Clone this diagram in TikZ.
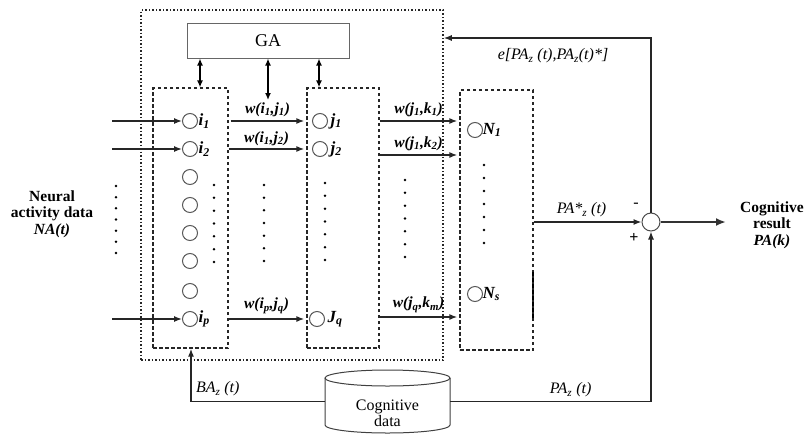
\documentclass[tikz,border=0pt]{standalone}
\usepackage{fontspec}
\setmainfont{Liberation Serif}
\usetikzlibrary{arrows.meta}
\newcommand{\sbs}[1]{\textsubscript{#1}}
\begin{document}
\begin{tikzpicture}[x=1pt,y=-1pt,
  neuron/.style={circle,draw=black!65,line width=1pt,minimum size=15pt,inner sep=0pt},
  layerbox/.style={draw=black!85,line width=1.3pt,dash pattern=on 3.5pt off 2.5pt},
  arr/.style={-{Latex[length=8pt,width=6pt]},line width=1.3pt,draw=black!85},
  darr/.style={{Latex[length=7pt,width=6pt]}-{Latex[length=7pt,width=6pt]},line width=1.3pt},
  wlab/.style={font=\fontsize{15.5}{16}\selectfont\bfseries\itshape,inner sep=0pt},
  nlab/.style={font=\fontsize{17}{18}\selectfont\bfseries\itshape,inner sep=0.5pt},
  slab/.style={font=\fontsize{16}{17}\selectfont\itshape,inner sep=0pt},
  bigtxt/.style={font=\fontsize{15.5}{16.5}\selectfont\bfseries,align=center},
  dotpt/.style={circle,fill=black,inner sep=0pt,minimum size=2.8pt}]
\useasboundingbox (0,0) rectangle (808,442);

% outer dotted network box
\node[draw=black!85,dotted,line width=1.5pt,minimum width=302pt,minimum height=350pt,inner sep=0pt] (net) at (292,185) {};
% GA
\node[draw=black!60,line width=1pt,minimum width=162pt,minimum height=35pt,font=\fontsize{18}{19}\selectfont] (GA) at (268,40.5) {GA};
% layer boxes
\node[layerbox,minimum width=75pt,minimum height=260pt] (L1) at (190.5,218) {};
\node[layerbox,minimum width=72pt,minimum height=260pt] (L2) at (343,218) {};
\node[layerbox,minimum width=73pt,minimum height=260pt] (L3) at (496.5,220) {};
\draw[line width=1.8pt,dash pattern=on 4pt off 2pt] (533,272) -- (533,320);

% input neurons
\node[neuron,label={[nlab]right:i\sbs{1}}] (i1) at (190,121) {};
\node[neuron,label={[nlab]right:i\sbs{2}}] (i2) at (190,149) {};
\node[neuron] (c3) at (190,177) {};
\node[neuron] (c4) at (190,205) {};
\node[neuron] (c5) at (190,233) {};
\node[neuron] (c6) at (190,261) {};
\node[neuron] (c7) at (190,291) {};
\node[neuron,label={[nlab]right:i\sbs{p}}] (ip) at (190,319) {};
% hidden neurons
\node[neuron,label={[nlab,label distance=2pt]right:j\sbs{1}}] (j1) at (320,121) {};
\node[neuron,label={[nlab,label distance=2pt]right:j\sbs{2}}] (j2) at (320,149) {};
\node[neuron,label={[nlab,label distance=2pt]right:J\sbs{q}}] (jq) at (317,319) {};
% output neurons
\node[neuron,label={[nlab,label distance=-1pt]right:N\sbs{1}}] (N1) at (475,130) {};
\node[neuron,label={[nlab,label distance=-1pt]right:N\sbs{s}}] (Ns) at (475,294) {};
% summation
\node[circle,draw=black!70,line width=1pt,minimum size=18pt,inner sep=0pt] (sum) at (651,222) {};

% dots
\foreach \x/\ya/\yb in {116/186/253, 214/185/262, 264/185/261, 325/183/260, 405/180/257, 484/165/243}{
  \foreach \k in {0,...,6}{
    \node[dotpt] at (\x,{\ya+\k*(\yb-\ya)/6}) {};
  }
}

% input arrows
\coordinate (in1) at (112,121);
\coordinate (in2) at (112,149);
\coordinate (inp) at (112,319);
\draw[arr] (in1) -- (i1.west);
\draw[arr] (in2) -- (i2.west);
\draw[arr] (inp) -- (ip.west);

% GA arrows
\coordinate (gam) at (268,100);
\draw[darr] ([xshift=-68pt]GA.south) -- ([xshift=9.5pt]L1.north);
\draw[darr] (GA.south) -- (gam);
\draw[darr] ([xshift=51pt]GA.south) -- ([xshift=-24pt]L2.north);

% weights layer 1 -> 2
\draw[arr] ([xshift=2pt]L1.east |- i1) -- ([xshift=-2pt]L2.west |- i1) node[wlab,midway,above=4pt] {w(i\sbs{1},j\sbs{1})};
\draw[arr] ([xshift=0pt]L1.east |- i2) -- ([xshift=-2pt]L2.west |- i2) node[wlab,midway,above=3pt] {w(i\sbs{1},j\sbs{2})};
\draw[arr] ([xshift=0pt]L1.east |- ip) -- ([xshift=-2pt]L2.west |- ip) node[wlab,midway,above=5pt] {w(i\sbs{p},j\sbs{q})};
% weights layer 2 -> 3
\draw[arr] (L2.east |- j1) -- ([xshift=-2pt]L3.west |- j1) node[wlab,midway,above=4pt] {w(j\sbs{1},k\sbs{1})};
\draw[arr] ([yshift=-6pt]L2.east |- j2) -- ([yshift=-6pt,xshift=-2pt]L3.west |- j2) node[wlab,midway,above=4pt] {w(j\sbs{1},k\sbs{2})};
\draw[arr] ([yshift=2pt]L2.east |- jq) -- ([yshift=2pt,xshift=-2pt]L3.west |- jq) node[wlab,midway,above=4pt] {w(j\sbs{q},k\sbs{m})};

% output to summation
\draw[arr] (L3.east |- sum) -- (sum.west) node[slab,midway,above=4pt,xshift=-6pt] {PA*\sbs{z} (t)};
\coordinate (out) at (726,222);
\draw[-{Latex[length=10pt,width=8pt]},line width=2.4pt,draw=black!80] (sum.east) -- (out);
\node[font=\fontsize{16}{16}\selectfont] at (636,205) {-};
\node[font=\fontsize{16}{16}\selectfont\bfseries] at (634,238) {+};

% feedback
\coordinate (fbrow) at (600,38);
\draw[arr] (sum.north) |- (net.east |- fbrow);
\node[slab] at (553,56) {e[PA\sbs{z} (t),PA\sbs{z}(t)*]};

% cognitive data cylinder
\node[minimum width=125pt,minimum height=63pt,inner sep=0pt] (db) at (387.5,401.5) {};
\draw[line width=1pt,draw=black!75,fill=white] (325,378) -- (325,425) arc[start angle=180,end angle=360,x radius=62.5pt,y radius=8pt] -- (450,378);
\draw[line width=1pt,draw=black!75] (387.5,378) ellipse[x radius=62.5pt,y radius=8pt];
\node[font=\fontsize{16}{16}\selectfont,align=center] (dbtxt) at (387.5,413) {Cognitive\\data};

% bottom connectors
\draw[arr] (db.east) -| (sum.south) node[slab,pos=0.3,above=4pt] {PA\sbs{z} (t)};
\draw[arr] (db.west) -| ([xshift=0.5pt]L1.south) node[slab,pos=0.4,above=5pt] {BA\sbs{z} (t)};

% side texts
\node[bigtxt] (nad) at (52,214) {Neural\\activity data\\\textit{NA(t)}};
\node[bigtxt] (cr) at (772,225) {Cognitive\\result\\\textit{PA(k)}};
\end{tikzpicture}
\end{document}
